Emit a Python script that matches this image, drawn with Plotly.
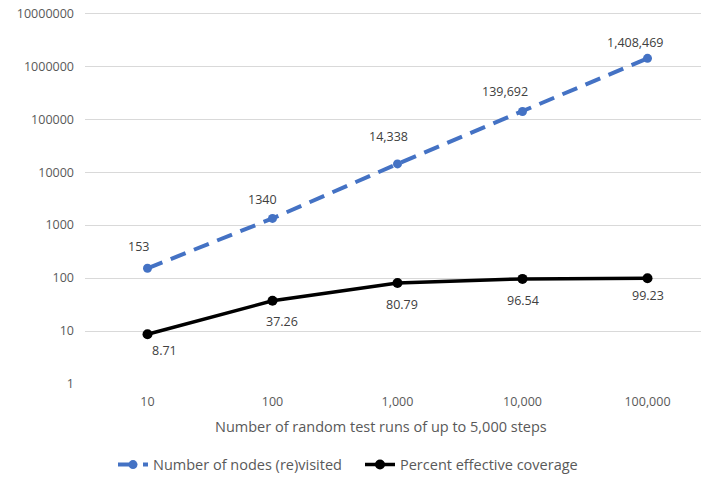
import math
import plotly.graph_objects as go

# ---- data ----
categories = ["10", "100", "1,000", "10,000", "100,000"]
nodes_visited = [153, 1340, 14338, 139692, 1408469]
nodes_labels = ["153", "1340", "14,338", "139,692", "1,408,469"]
coverage = [8.71, 37.26, 80.79, 96.54, 99.23]
coverage_labels = ["8.71", "37.26", "80.79", "96.54", "99.23"]
y_tickvals = [1, 10, 100, 1000, 10000, 100000, 1000000, 10000000]
y_ticktext = ["1", "10", "100", "1000", "10000", "100000", "1000000", "10000000"]

# ---- styling (label offsets in px) ----
nodes_label_dx = [-9, -10, -9, -18, -12]
nodes_label_dy = [22, 19, 27, 20, 16]
cov_label_dx = [17, 9, 4, 0, 0]
cov_label_dy = [-16, -21, -22, -22, -17]

FONT = "Open Sans, Liberation Sans, sans-serif"
BLUE = "#4472C4"
W, H = 701, 482
L = 85
DEC = 53.0               # px per decade
T = 0
BOTTOM_Y = 384.3         # y of the "1" gridline
PH = BOTTOM_Y - T
B = H - BOTTOM_Y
YTOP = PH / DEC

fig = go.Figure()
fig.add_trace(go.Scatter(
    x=categories, y=nodes_visited, mode="lines+markers",
    name="Number of nodes (re)visited",
    line=dict(color=BLUE, width=4, dash="16px,9px"),
    marker=dict(color=BLUE, size=9),
))
fig.add_trace(go.Scatter(
    x=categories, y=coverage, mode="lines+markers",
    name="Percent effective coverage",
    line=dict(color="black", width=3.5),
    marker=dict(color="black", size=10),
))

for i, (v, t) in enumerate(zip(nodes_visited, nodes_labels)):
    fig.add_annotation(x=i, y=math.log10(v), text=t, showarrow=False,
                       xshift=nodes_label_dx[i], yshift=nodes_label_dy[i],
                       font=dict(family=FONT, size=12.5, color="#404040"))
for i, (v, t) in enumerate(zip(coverage, coverage_labels)):
    fig.add_annotation(x=i, y=math.log10(v), text=t, showarrow=False,
                       xshift=cov_label_dx[i], yshift=cov_label_dy[i],
                       font=dict(family=FONT, size=12.5, color="#404040"))

fig.add_annotation(xref="paper", yref="paper", x=(381 - L) / 616, y=-(427 - BOTTOM_Y) / PH,
                   text="Number of random test runs of up to 5,000 steps",
                   showarrow=False, xanchor="center", yanchor="middle",
                   font=dict(family=FONT, size=14.5, color="#595959"))

fig.update_layout(
    width=W, height=H,
    margin=dict(l=L, r=0, t=T, b=B),
    paper_bgcolor="white", plot_bgcolor="white",
    font=dict(family=FONT, size=12.5, color="#595959"),
    showlegend=True,
    legend=dict(orientation="h", x=(113 - L) / 616, y=-(465 - BOTTOM_Y) / PH,
                xanchor="left", yanchor="middle",
                font=dict(family=FONT, size=14.5, color="#595959"),
                itemwidth=30, entrywidth=202, bgcolor="rgba(0,0,0,0)"),
    xaxis=dict(type="category", range=[-0.5, 4.428], showgrid=False,
               showline=False, zeroline=False, ticks="", ticklabelstandoff=8,
               automargin=False,
               tickfont=dict(family=FONT, size=12.5, color="#595959")),
    yaxis=dict(type="log", range=[0, YTOP], tickvals=y_tickvals, ticktext=y_ticktext,
               showgrid=True, gridcolor="#D9D9D9", gridwidth=1,
               showline=False, zeroline=False, ticks="", ticklabelstandoff=10,
               ticklabeloverflow="allow", automargin=False,
               tickfont=dict(family=FONT, size=12.5, color="#595959")),
)

fig.write_html(
    "out.html",
    config={"displayModeBar": False},
    post_script="document.body.style.margin='0';document.documentElement.style.overflow='hidden';",
)
